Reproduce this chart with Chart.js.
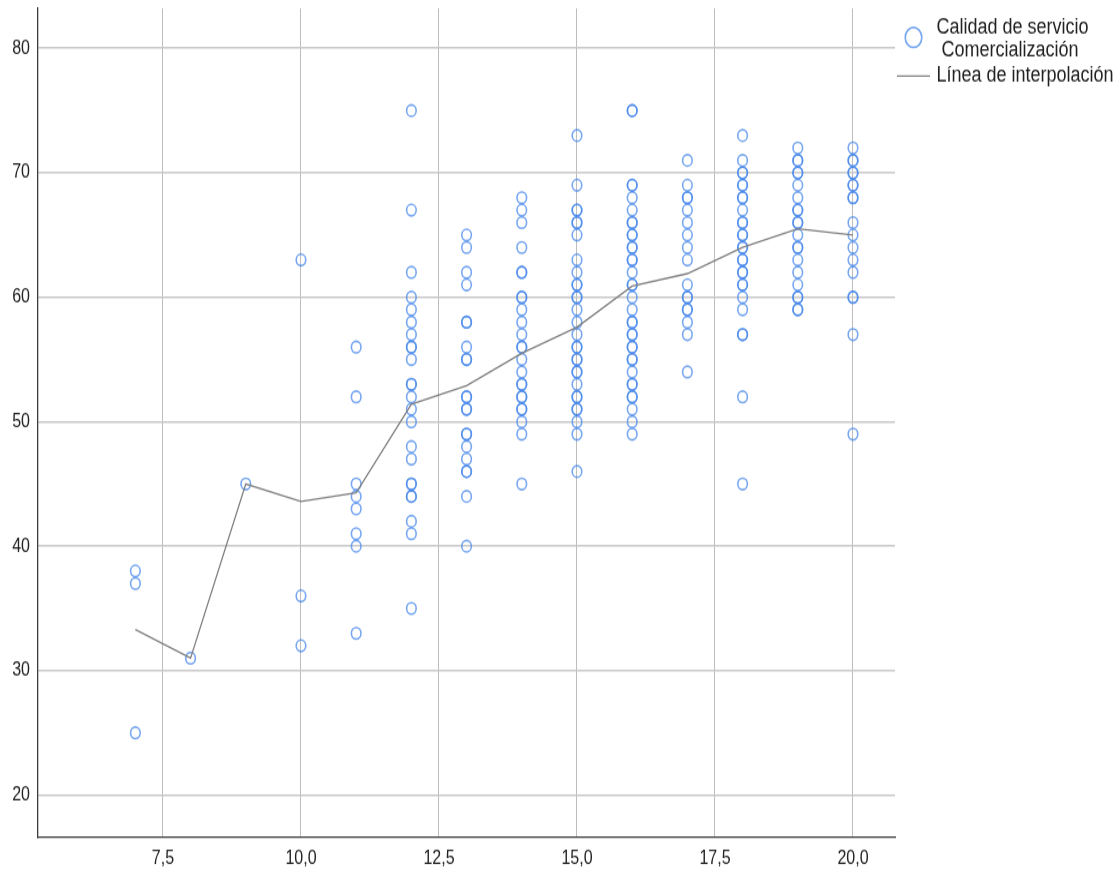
<!DOCTYPE html>
<html>
<head>
<meta charset="utf-8">
<script src="https://cdn.jsdelivr.net/npm/chart.js@4/dist/chart.umd.min.js"></script>
<style>
  html, body { margin: 0; padding: 0; background: #fff; overflow: hidden; }
  /* the plot is laid out on a shorter canvas and stretched to the full page height */
  #wrap { position: absolute; left: 0; top: 0; width: 1118px; height: 727px;
          transform: scaleY(1.2); transform-origin: 0 0; }
  canvas { display: block; }
</style>
</head>
<body>
<div id="wrap"><canvas id="chart" width="1118" height="727"></canvas></div>
<script>
// Calidad de servicio (x) against Comercialización (y), one list of scores per x value
const serviceLevels = [7, 8, 9, 10, 11, 12, 13, 14, 15, 16, 17, 18, 19, 20];
const commercialization = [
  [38, 37, 25],
  [31],
  [45],
  [63, 36, 32],
  [56, 52, 45, 44, 43, 41, 40, 33],
  [75, 67, 62, 60, 59, 58, 57, 56, 56, 55, 53, 53, 52, 51, 50, 48, 47, 45, 45, 44, 44, 42, 41, 35],
  [65, 64, 62, 61, 58, 58, 56, 55, 55, 52, 52, 51, 51, 49, 49, 48, 47, 46, 46, 44, 40],
  [68, 67, 66, 64, 62, 62, 60, 60, 59, 58, 57, 56, 56, 55, 54, 53, 53, 52, 52, 51, 51, 50, 49, 45],
  [73, 69, 67, 67, 66, 66, 65, 63, 62, 61, 61, 60, 60, 59, 58, 57, 56, 56, 55, 55, 54, 54, 53, 52, 52, 51, 51, 50, 49, 46],
  [75, 75, 69, 69, 68, 67, 66, 66, 65, 65, 64, 64, 63, 63, 62, 61, 61, 60, 59, 58, 58, 57, 57, 56, 56, 55, 55, 54, 53, 53, 52, 52, 51, 50, 49],
  [71, 69, 68, 68, 67, 66, 65, 64, 63, 61, 60, 60, 59, 59, 58, 57, 54],
  [73, 71, 70, 70, 69, 69, 68, 68, 67, 66, 66, 65, 65, 64, 64, 63, 63, 62, 62, 61, 61, 60, 59, 57, 57, 52, 45],
  [72, 71, 71, 70, 70, 69, 68, 67, 67, 66, 66, 65, 64, 64, 63, 62, 61, 60, 60, 59, 59],
  [72, 71, 71, 70, 70, 69, 69, 68, 68, 66, 65, 64, 63, 62, 60, 60, 57, 49]
];
// interpolation line through the group means
const interpolation = [33.3, 31.0, 45.0, 43.6, 44.3, 51.4, 52.9, 55.5, 57.6, 60.9, 61.9, 64.0, 65.5, 65.0];

const xTicks = [7.5, 10, 12.5, 15, 17.5, 20];
const xTickLabels = ['7,5', '10,0', '12,5', '15,0', '17,5', '20,0'];
const yTicks = [20, 30, 40, 50, 60, 70, 80];
const legendLabels = ['Calidad de servicio', 'Comercialización', 'Línea de interpolación'];

const pointColor = 'rgba(70,135,235,0.74)';
const lineColor = '#7f7f7f';
const textColor = '#222222';
const fontFamily = '"Liberation Sans", Arial, sans-serif';

const scatterPoints = [];
serviceLevels.forEach((x, i) => {
  commercialization[i].forEach(y => scatterPoints.push({ x: x, y: y }));
});
const linePoints = serviceLevels.map((x, i) => ({ x: x, y: interpolation[i] }));

// legend block at the right of the plot
const sideLegend = {
  id: 'sideLegend',
  afterDraw(chart) {
    const ctx = chart.ctx;
    ctx.save();
    ctx.strokeStyle = pointColor;
    ctx.lineWidth = 1.6;
    ctx.beginPath();
    ctx.arc(913.5, 31.2, 8.3, 0, Math.PI * 2);
    ctx.stroke();

    ctx.strokeStyle = lineColor;
    ctx.lineWidth = 1.2;
    ctx.beginPath();
    ctx.moveTo(897, 63.3);
    ctx.lineTo(930, 63.3);
    ctx.stroke();

    ctx.fillStyle = textColor;
    ctx.font = '18px ' + fontFamily;
    ctx.textBaseline = 'alphabetic';
    ctx.textAlign = 'left';
    ctx.fillText(legendLabels[0], 936.5, 27.8);
    ctx.fillText(legendLabels[1], 941.5, 46.7);
    ctx.fillText(legendLabels[2], 936.5, 68.1);
    ctx.restore();
  }
};

new Chart(document.getElementById('chart'), {
  data: {
    datasets: [
      {
        type: 'line',
        label: legendLabels[2],
        data: linePoints,
        borderColor: lineColor,
        borderWidth: 1.3,
        pointRadius: 0,
        fill: false,
        tension: 0,
        order: 0
      },
      {
        type: 'scatter',
        label: legendLabels[0] + ' ' + legendLabels[1],
        data: scatterPoints,
        pointStyle: 'circle',
        pointRadius: 4.8,
        borderWidth: 1.6,
        borderColor: pointColor,
        backgroundColor: 'rgba(0,0,0,0)',
        order: 1
      }
    ]
  },
  options: {
    responsive: false,
    animation: false,
    devicePixelRatio: 1,
    layout: { padding: { top: 7, right: 223, left: 0, bottom: 0 } },
    plugins: {
      legend: { display: false },
      tooltip: { enabled: false }
    },
    scales: {
      x: {
        type: 'linear',
        min: 5.236,
        max: 20.761,
        afterBuildTicks: s => { s.ticks = xTicks.map(v => ({ value: v })); },
        afterFit: s => { s.height = 29.5; s.paddingLeft = 0; s.paddingRight = 0; },
        ticks: {
          callback: v => xTickLabels[xTicks.indexOf(v)],
          color: textColor,
          font: { family: fontFamily, size: 16 },
          padding: 8,
          maxRotation: 0
        },
        grid: { color: '#bdbdbd', lineWidth: 1, drawTicks: false },
        border: { color: '#3c3c3c', width: 1.2 }
      },
      y: {
        type: 'linear',
        min: 16.63,
        max: 83.21,
        afterBuildTicks: s => { s.ticks = yTicks.map(v => ({ value: v })); },
        afterFit: s => { s.width = 38; s.paddingTop = 0; s.paddingBottom = 0; },
        ticks: {
          color: textColor,
          font: { family: fontFamily, size: 16 },
          padding: 8
        },
        grid: { color: '#c8c8c8', lineWidth: 1.6, drawTicks: false },
        border: { color: '#3c3c3c', width: 1.3 }
      }
    }
  },
  plugins: [sideLegend]
});
</script>
</body>
</html>
